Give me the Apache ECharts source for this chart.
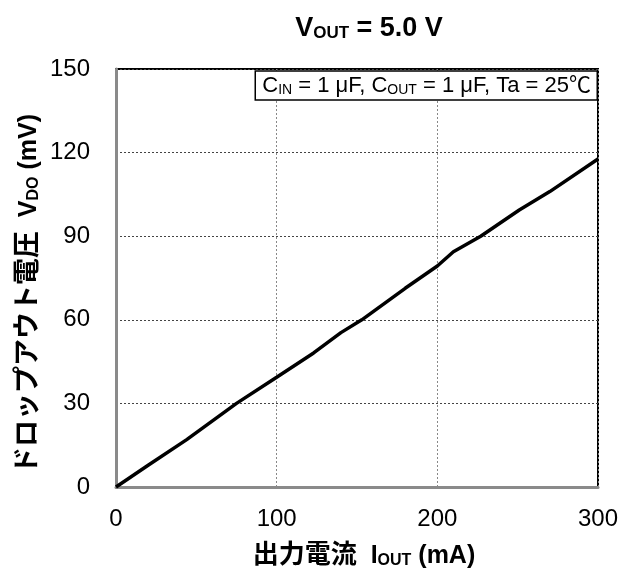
<!DOCTYPE html>
<html>
<head>
<meta charset="utf-8">
<script src="https://cdn.jsdelivr.net/npm/echarts@6/dist/echarts.min.js"></script>
<style>html,body{margin:0;padding:0;background:#fff}#c{width:637px;height:577px}</style>
</head>
<body>
<div id="c"></div>
<script>
const currentMA = [0, 20, 44, 75, 100, 123, 140, 153, 180, 200, 210, 227, 251, 270, 300];
const dropoutMV = [0, 7.8, 17, 30, 39.4, 48.1, 55.4, 60, 71.3, 79.3, 84.4, 90, 99.4, 106, 117.7];
const xTicks = [0, 100, 200, 300];
const yTicks = [0, 30, 60, 90, 120, 150];

const FONT = '"Liberation Sans", Arial, "Noto Sans CJK JP", sans-serif';
const chart = echarts.init(document.getElementById('c'));
const data = currentMA.map((x, i) => [x, dropoutMV[i]]);

chart.setOption({
  backgroundColor: '#fff',
  animation: false,
  textStyle: { fontFamily: FONT },
  title: [{
    text: '{b|V}{s|OUT}{b| = 5.0 V}',
    left: 364, top: 8, textAlign: 'center',
    textStyle: {
      rich: {
        b: { fontSize: 27, fontWeight: 'bold', color: '#000', fontFamily: FONT, lineHeight: 32 },
        s: { fontSize: 17, fontWeight: 'bold', color: '#000', fontFamily: FONT, lineHeight: 32, padding: [8, 0, 0, 0] }
      }
    }
  }, {
    text: '{n|C}{s|IN}{n| = 1 μF, C}{s|OUT}{n| = 1 μF, Ta = 25℃}',
    right: 39, top: 69,
    backgroundColor: '#fff', borderColor: '#000', borderWidth: 1.5,
    padding: [4, 7, 3, 7],
    textStyle: {
      fontWeight: 'normal',
      rich: {
        n: { fontSize: 22, fontWeight: 'normal', color: '#000', fontFamily: FONT, lineHeight: 26 },
        s: { fontSize: 14, fontWeight: 'normal', color: '#000', fontFamily: FONT, lineHeight: 26, padding: [8, 0, 0, 0] }
      }
    }
  }],
  grid: { left: 116, right: 39, top: 69, bottom: 90, show: true, borderColor: '#000', borderWidth: 2 },
  xAxis: {
    type: 'value', min: 0, max: 300, interval: 100,
    axisLine: { show: true, onZero: false, lineStyle: { color: '#8a8a8a', width: 3 } },
    axisTick: { show: false },
    axisLabel: { fontSize: 24, color: '#000', margin: 20, fontFamily: FONT,
      formatter: v => xTicks.includes(v) ? String(v) : '' },
    splitLine: { show: true, lineStyle: { color: '#888', type: [2, 2], width: 1 } },
    name: '{c|出力電流}{b|  I}{s|OUT}{b| (mA)}',
    nameLocation: 'middle', nameGap: 54,
    nameTextStyle: {
      padding: [0, 0, 0, 14],
      rich: {
        c: { fontSize: 26, fontWeight: 'bold', color: '#000', fontFamily: FONT, lineHeight: 30 },
        b: { fontSize: 25, fontWeight: 'bold', color: '#000', fontFamily: FONT, lineHeight: 30 },
        s: { fontSize: 16, fontWeight: 'bold', color: '#000', fontFamily: FONT, lineHeight: 30, padding: [9, 0, 0, 0] }
      }
    }
  },
  yAxis: {
    type: 'value', min: 0, max: 150, interval: 30,
    axisLine: { show: true, onZero: false, lineStyle: { color: '#8a8a8a', width: 3 } },
    axisTick: { show: false },
    axisLabel: { fontSize: 24, color: '#000', margin: 26, fontFamily: FONT,
      formatter: v => yTicks.includes(v) ? String(v) : '' },
    splitLine: { show: true, lineStyle: { color: '#444', type: [2, 2], width: 1 } },
    name: '{c|ドロップアウト電圧}{b|  V}{s|DO}{b| (mV)}',
    nameLocation: 'middle', nameGap: 72, nameRotate: 90, nameMoveOverlap: false,
    nameTextStyle: {
      padding: [0, 32, 0, 0],
      rich: {
        c: { fontSize: 27, fontWeight: 'bold', color: '#000', fontFamily: FONT, lineHeight: 30 },
        b: { fontSize: 25, fontWeight: 'bold', color: '#000', fontFamily: FONT, lineHeight: 30 },
        s: { fontSize: 16, fontWeight: 'bold', color: '#000', fontFamily: FONT, lineHeight: 30, padding: [9, 0, 0, 0] }
      }
    }
  },
  series: [{
    type: 'line', data: data, showSymbol: false, smooth: false,
    lineStyle: { color: '#000', width: 3.5 }, z: 3, clip: false
  }]
});
</script>
</body>
</html>
